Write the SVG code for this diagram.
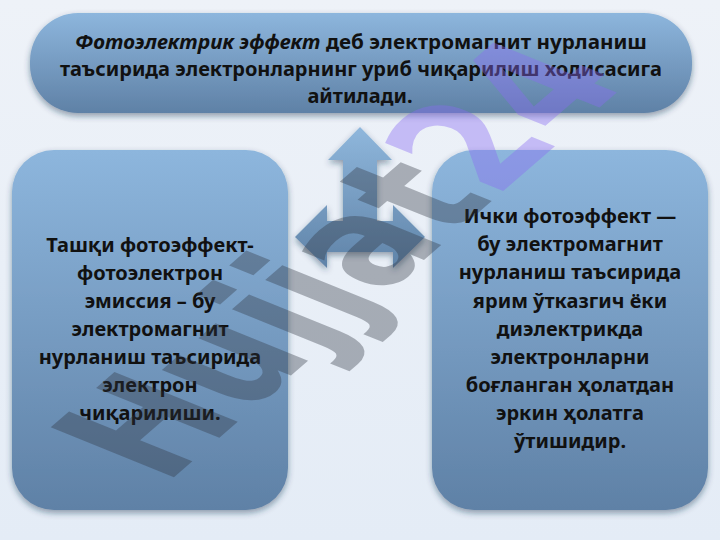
<svg xmlns="http://www.w3.org/2000/svg" width="720" height="540" viewBox="0 0 720 540">
<defs>
<linearGradient id="bg" x1="0" y1="0" x2="0" y2="1">
<stop offset="0" stop-color="#eef2f8"/>
<stop offset="1" stop-color="#e4ecf6"/>
</linearGradient>
<linearGradient id="boxg" x1="0" y1="0" x2="0" y2="1">
<stop offset="0" stop-color="#8db6dd"/>
<stop offset="1" stop-color="#5f81a6"/>
</linearGradient>
<linearGradient id="arrg" x1="0" y1="0" x2="0" y2="1">
<stop offset="0" stop-color="#8fb7dc"/>
<stop offset="1" stop-color="#5f83a8"/>
</linearGradient>
<filter id="sh" x="-10%" y="-10%" width="120%" height="125%">
<feDropShadow dx="0" dy="3" stdDeviation="3" flood-color="#1f3550" flood-opacity="0.45"/>
</filter>
<style>
.box{fill:url(#boxg);filter:url(#sh)}
.t{font-family:"Noto Sans","DejaVu Sans",sans-serif;font-weight:bold;font-size:20px;fill:#111;text-anchor:middle}
.wm{font-family:"DejaVu Sans","Noto Sans",sans-serif;font-weight:bold;font-size:152px}
</style>
</defs>
<rect width="720" height="540" fill="url(#bg)"/>
<g id="top">
<rect class="box" x="30" y="13" width="662" height="100" rx="48"/>
<text class="t" x="361" y="49" textLength="572" lengthAdjust="spacingAndGlyphs"><tspan font-style="italic">Фотоэлектрик эффект</tspan> деб электромагнит нурланиш</text>
<text class="t" x="361" y="76" textLength="602" lengthAdjust="spacingAndGlyphs">таъсирида электронларнинг уриб чиқарилиш ходисасига</text>
<text class="t" x="360" y="103">айтилади.</text>
</g>
<g id="left">
<rect class="box" x="12" y="150" width="276" height="360" rx="42"/>
<text class="t" x="150" y="252">Ташқи фотоэффект-</text>
<text class="t" x="150" y="280">фотоэлектрон</text>
<text class="t" x="150" y="308">эмиссия – бу</text>
<text class="t" x="150" y="336">электромагнит</text>
<text class="t" x="150" y="364">нурланиш таъсирида</text>
<text class="t" x="150" y="392">электрон</text>
<text class="t" x="150" y="420">чиқарилиши.</text>
</g>
<g id="right">
<rect class="box" x="432" y="150" width="276" height="360" rx="42"/>
<text class="t" x="570" y="223">Ички фотоэффект —</text>
<text class="t" x="570" y="251">бу электромагнит</text>
<text class="t" x="570" y="279">нурланиш таъсирида</text>
<text class="t" x="570" y="308">ярим ўтказгич ёки</text>
<text class="t" x="570" y="336">диэлектрикда</text>
<text class="t" x="570" y="364">электронларни</text>
<text class="t" x="570" y="392">боғланган ҳолатдан</text>
<text class="t" x="570" y="420">эркин ҳолатга</text>
<text class="t" x="570" y="448">ўтишидир.</text>
</g>
<g id="connectors">
<path d="M360,127 L392,160 L377,160 L377,221 L393,221 L393,205 L425,237 L393,268 L393,252 L327,252 L327,268 L295,237 L327,205 L327,221 L343,221 L343,160 L328,160 Z" fill="url(#arrg)" filter="url(#sh)"/>
</g>
<g id="watermark" transform="matrix(0.642,-0.558,1.113,0.45,165,485)">
<text class="wm" x="0" y="0"><tspan fill="#2e3640" fill-opacity="0.36">Hujjat</tspan><tspan fill="#8a6cf2" fill-opacity="0.4">24</tspan></text>
</g>
</svg>
